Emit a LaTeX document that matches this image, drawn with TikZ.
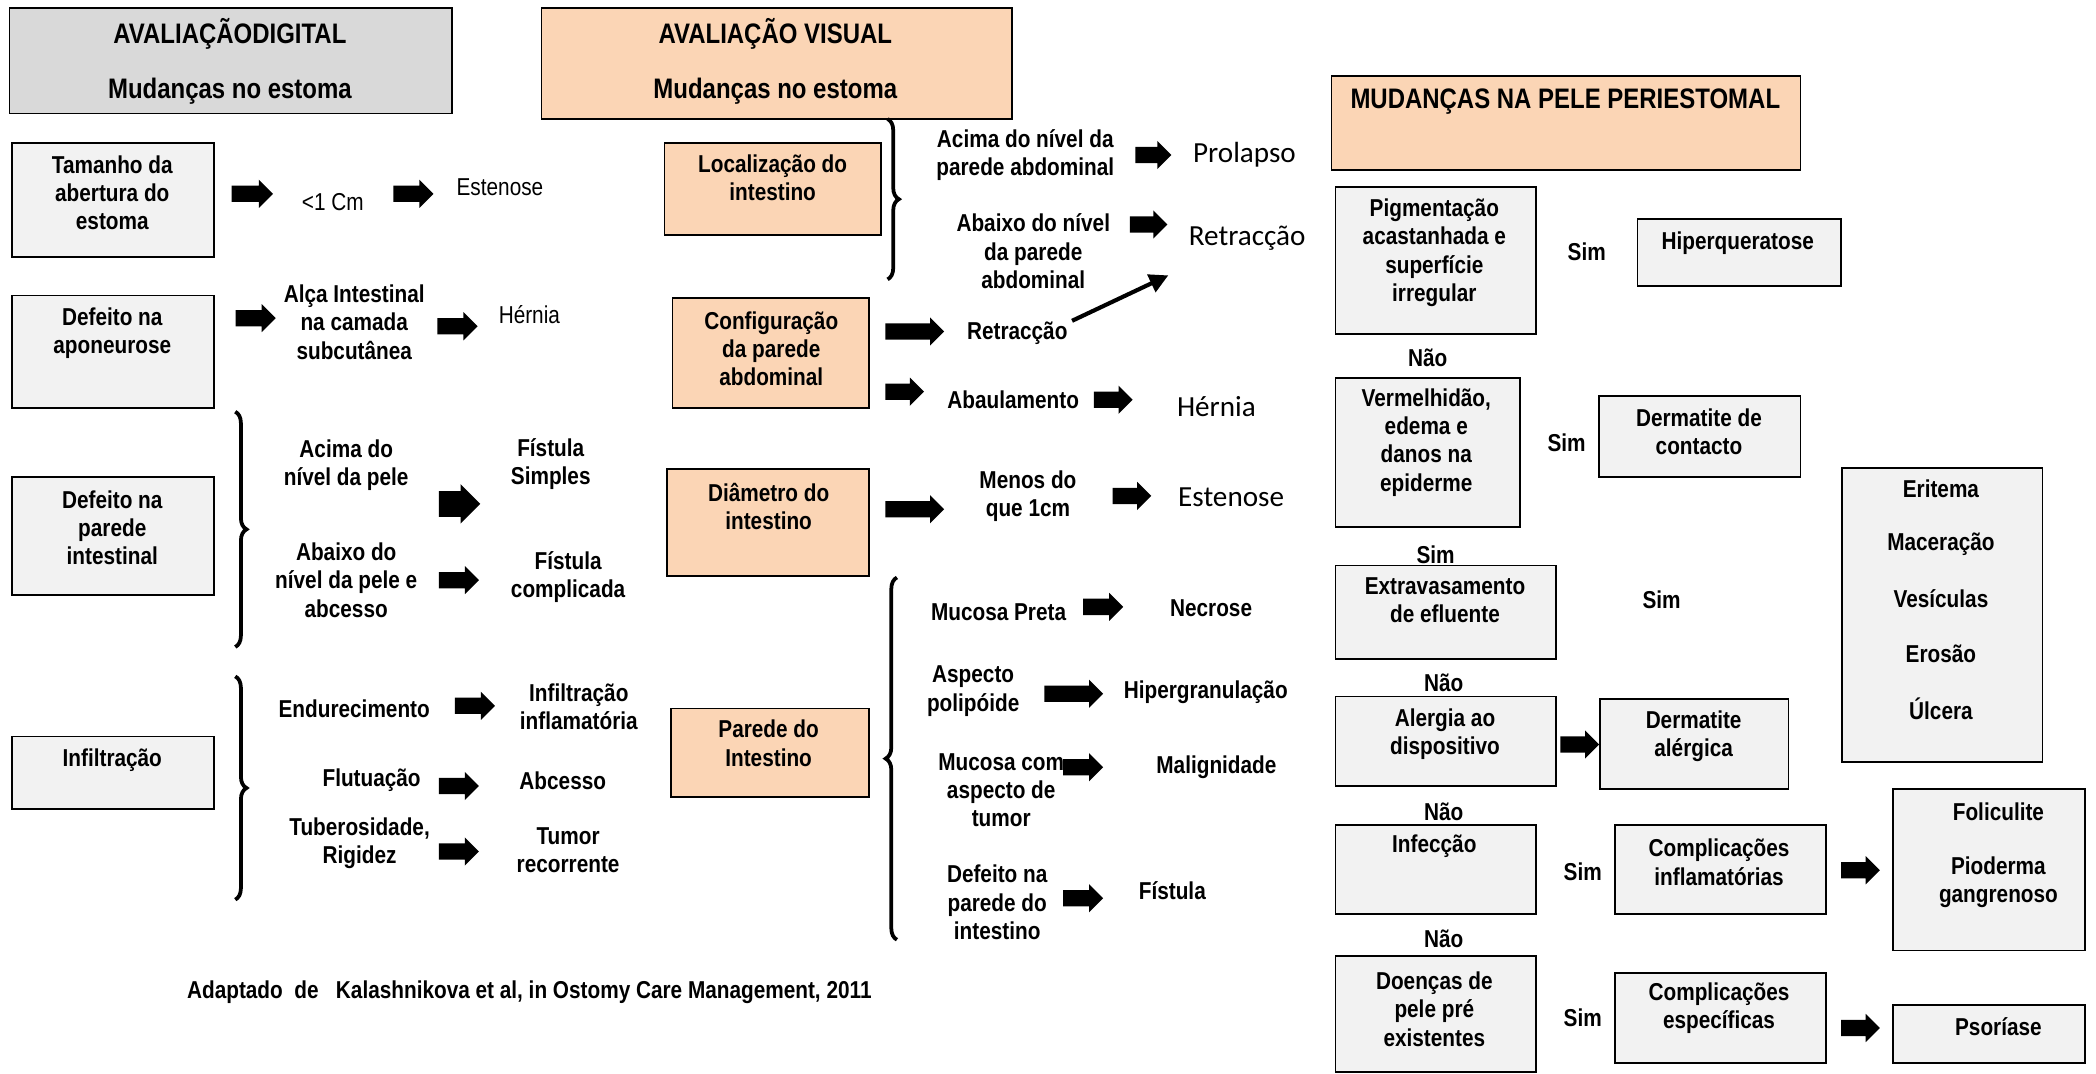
\documentclass[tikz,border=0pt]{standalone}
\usepackage{fontspec}
\setmainfont{Liberation Sans}[FakeStretch=0.85]
\newfontfamily\calib{Carlito}
\usepackage{tikz}
\usetikzlibrary{arrows.meta,positioning,fit,shapes.arrows,decorations.pathreplacing}
\definecolor{avPeach}{RGB}{251,213,181}
\definecolor{avGray}{RGB}{217,217,217}
\definecolor{avLight}{RGB}{242,242,242}

\begin{document}
\begin{tikzpicture}[
    x=0.025cm, y=-0.025cm,
    every node/.style={font=\fontsize{13}{15}\selectfont\bfseries, align=center, inner sep=0pt},
    head/.style={font=\fontsize{15}{17}\selectfont\bfseries},
    box/.style={draw=black, line width=0.9pt, inner sep=0pt},
    lbox/.style={box, fill=avLight},
    gbox/.style={box, fill=avGray},
    pbox/.style={box, fill=avPeach},
    thin/.style={font=\fontsize{13}{15}\selectfont},
    cal/.style={font=\calib\fontsize{15.5}{18}\selectfont},
    blk/.style={single arrow, fill=black, draw=none, anchor=tail, inner xsep=0pt, inner ysep=3.9pt,
                minimum width=15pt, single arrow head extend=3pt, minimum height=#1*0.025cm},
    blk/.default=30,
    bigblk/.style={blk=#1, inner ysep=5.5pt, minimum width=21pt},
    brc/.style={decorate, decoration={brace, amplitude=6pt}, line width=2pt},
    diag/.style={line width=2.2pt, -{Triangle[length=10pt, width=10pt]}}
]
\useasboundingbox (0,0) rectangle (1568,803);

% avaliacao digital
\node[gbox, fit={(7,6) (338,85)}] (hdrD) {};
\node[head] (hdrDa) at (172,25) {AVALIAÇÃODIGITAL};
\node[head] (hdrDb) at (172,68) {Mudanças no estoma};

\node[lbox, fit={(9,107) (160,192)}] (tam) {};
\node (tamT) at (84,144) {Tamanho da\\abertura do\\estoma};
\node[thin] (menos1) at (249,151) {<1 Cm};
\node[thin] (esten1) at (374,140) {Estenose};

\node[lbox, fit={(9,221) (160,305)}] (apon) {};
\node (aponT) at (84,249) {Defeito na\\aponeurose};
\node (alca) at (265,241) {Alça Intestinal\\na camada\\subcutânea};
\node[thin] (hern1) at (396,235) {Hérnia};

\node[lbox, fit={(9,357) (160,445)}] (parint) {};
\node (parintT) at (84,395) {Defeito na\\parede\\intestinal};
\draw[brc] (176,308) -- (176,484);
\node (acima1) at (259,348) {Acima do\\nível da pele};
\node (fistS) at (412,347) {Fístula\\Simples};
\node (abaixo1) at (259,434) {Abaixo do\\nível da pele e\\abcesso};
\node (fistC) at (425,432) {Fístula\\complicada};

\node[lbox, fit={(9,551) (160,605)}] (infil) {};
\node (infilT) at (84,569) {Infiltração};
\draw[brc] (176,506) -- (176,673);
\node (endur) at (265,530) {Endurecimento};
\node (infinf) at (433,529) {Infiltração\\inflamatória};
\node (flut) at (278,584) {Flutuação};
\node (absc) at (421,584) {Abcesso};
\node (tuber) at (269,631) {Tuberosidade,\\Rigidez};
\node (tumor) at (425,636) {Tumor\\recorrente};

\node (fonte) at (396,742) {Adaptado\ \ de\ \ \ Kalashnikova et al, in Ostomy Care Management, 2011};

% avaliacao visual
\node[pbox, fit={(405,6) (757,89)}] (hdrV) {};
\node[head] (hdrVa) at (580,25) {AVALIAÇÃO VISUAL};
\node[head] (hdrVb) at (580,68) {Mudanças no estoma};

\node[pbox, fit={(497,107) (659,176)}] (loc) {};
\node (locT) at (578,133) {Localização do\\intestino};
\draw[brc] (664,89) -- (664,209);
\node (acima2) at (767,116) {Acima do nível da\\parede abdominal};
\node[cal] (prol) at (931,116) {Prolapso};
\node (abaixo2) at (773,188) {Abaixo do nível\\da parede\\abdominal};
\node[cal] (retrA) at (933,178) {Retracção};

\node[pbox, fit={(503,223) (650,305)}] (conf) {};
\node (confT) at (577,261) {Configuração\\da parede\\abdominal};
\node (retrB) at (761,249) {Retracção};
\coordinate (dA) at (802,240);
\coordinate (dB) at (874,206);
\draw[diag] (dA) -- (dB);
\node (abaul) at (758,299) {Abaulamento};
\node[cal] (hern2) at (910,304) {Hérnia};

\node[pbox, fit={(499,351) (650,431)}] (diam) {};
\node (diamT) at (575,379) {Diâmetro do\\intestino};
\node (menos2) at (769,371) {Menos do\\que 1cm};
\node[cal] (esten2) at (921,372) {Estenose};

\node[pbox, fit={(502,530) (650,596)}] (pared) {};
\node (paredT) at (575,556) {Parede do\\Intestino};
\draw[brc] (671,703) -- (671,432);
\node (mucP) at (747,458) {Mucosa Preta};
\node (necr) at (906,455) {Necrose};
\node (poli) at (728,517) {Aspecto\\polipóide};
\node (hiperg) at (902,518) {Hipergranulação};
\node (mucT) at (749,591) {Mucosa com\\aspecto de\\tumor};
\node (malig) at (910,574) {Malignidade};
\node (defP) at (746,675) {Defeito na\\parede do\\intestino};
\node (fist2) at (877,666) {Fístula};

% pele periestomal
\node[pbox, fit={(996,57) (1347,127)}] (hdrP) {};
\node[head] (hdrPa) at (1171,76) {MUDANÇAS NA PELE PERIESTOMAL};

\node[lbox, fit={(999,140) (1149,250)}] (pig) {};
\node (pigT) at (1073,189) {Pigmentação\\acastanhada e\\superfície\\irregular};
\node (sim1) at (1187,188) {Sim};
\node[lbox, fit={(1225,164) (1377,214)}] (hiperq) {};
\node (hiperqT) at (1300,182) {Hiperqueratose};
\node (nao1) at (1068,268) {Não};

\node[lbox, fit={(999,283) (1137,394)}] (verm) {};
\node (vermT) at (1067,331) {Vermelhidão,\\edema e\\danos na\\epiderme};
\node (sim2) at (1172,331) {Sim};
\node[lbox, fit={(1196,296) (1347,357)}] (dcont) {};
\node (dcontT) at (1271,323) {Dermatite de\\contacto};

\node[lbox, fit={(1378,350) (1528,570)}] (erit) {};
\foreach \n/\y/\t in {er1/366/Eritema, er2/407/Maceração, er3/448/Vesículas, er4/489/Erosão, er5/530/Úlcera}
  \node (\n) at (1452,\y) {\t};

\node (sim3) at (1074,415) {Sim};
\node[lbox, fit={(999,423) (1164,493)}] (extr) {};
\node (extrT) at (1081,449) {Extravasamento\\de efluente};
\node (sim4) at (1243,449) {Sim};
\node (nao2) at (1080,511) {Não};

\node[lbox, fit={(999,521) (1164,588)}] (alerg) {};
\node (alergT) at (1081,549) {Alergia ao\\dispositivo};
\node[lbox, fit={(1197,523) (1338,590)}] (dalerg) {};
\node (dalergT) at (1267,551) {Dermatite\\alérgica};
\node (nao3) at (1080,607) {Não};

\node[lbox, fit={(999,617) (1149,684)}] (infec) {};
\node (infecT) at (1073,633) {Infecção};
\node (sim5) at (1184,652) {Sim};
\node[lbox, fit={(1208,617) (1366,684)}] (cinfl) {};
\node (cinflT) at (1286,645) {Complicações\\inflamatórias};
\node[lbox, fit={(1416,590) (1560,711)}] (folic) {};
\node (folicT) at (1495,607) {Foliculite};
\node (piod) at (1495,660) {Pioderma\\gangrenoso};
\node (nao4) at (1080,702) {Não};

\node[lbox, fit={(999,715) (1149,802)}] (doenc) {};
\node (doencT) at (1073,755) {Doenças de\\pele pré\\existentes};
\node (sim6) at (1184,761) {Sim};
\node[lbox, fit={(1208,728) (1366,795)}] (cesp) {};
\node (cespT) at (1286,754) {Complicações\\específicas};
\node[lbox, fit={(1416,752) (1560,795)}] (psor) {};
\node (psorT) at (1495,768) {Psoríase};

% setas
\foreach \n/\x/\y/\l in {a1/173/145/31, a2/294/145/30, a3/176/238/30, a4/327/244/30,
    a6/328/434/30, a7/340/528/30, a8/328/588/30, a9/328/637/30,
    b1/849/116/27, b2/845/168/28, b3/662/248/44, b4/662/293/29, b5/818/299/29,
    b6/662/381/44, b7/832/371/29, b8/810/454/30, b9/781/519/44, b10/795/574/30,
    b11/795/672/30, c1/1167/557/29, c2/1377/651/29, c3/1377/769/29}
  \node[blk=\l] (\n) at (\x,\y) {};
\node[bigblk=31] (a5) at (328,377) {};
\end{tikzpicture}
\end{document}
